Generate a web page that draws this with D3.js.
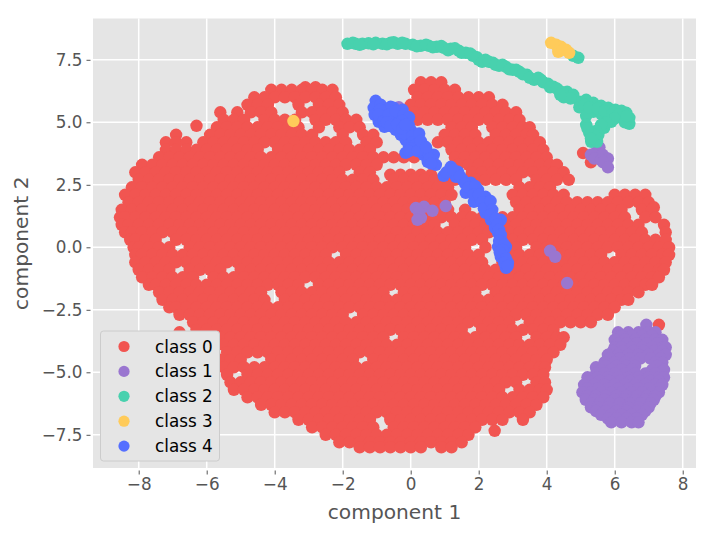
<!DOCTYPE html>
<html>

<head>
    <meta charset="utf-8" />
    <title>Clusters</title>
    <style>
        body { margin: 0; background: #fff; }
        text { font-family: "DejaVu Sans", sans-serif; }
    </style>
</head>

<body>
    <svg width="714" height="538"></svg>
</body>

<script src="https://d3js.org/d3.v7.min.js"></script>
<script>

    var classNames = ['class 0', 'class 1', 'class 2', 'class 3', 'class 4'];
    var classColors = ['#f15551', '#9a76d0', '#48d1ae', '#ffcb5a', '#556fff'];
    var xTicks = [-8, -6, -4, -2, 0, 2, 4, 6, 8];
    var yTicks = [-7.5, -5, -2.5, 0, 2.5, 5, 7.5];
    var xDomain = [-9.344, 8.391];
    var yDomain = [-8.828, 9.152];

    var class0Rows = [
        [6.6, [0.3,0.6,0.9]],
        [6.4, [-3.1,-2.8]],
        [6.3, [-4.1,-3.8,-3.5,-3.2,-2.9,-2.6,-2.3,0.1,0.4,0.7,1.0,1.3]],
        [6.0, [-4.6,-4.3,-4.0,-3.7,-3.4,-3.1,-2.8,-2.5,-2.2,0.2,0.5,0.8,1.1,1.4,1.7,2.0,2.3]],
        [5.7, [-4.8,-4.5,-4.2,-3.3,-2.7,-2.4,-2.1,0,0.3,0.6,0.9,1.2,1.5,1.8,2.1,2.4,2.7]],
        [5.4, [-5.6,-5.1,-4.7,-4.4,-4.1,-3.2,-2.9,-2.6,-2.3,-2.0,0.1,0.4,0.7,1.0,1.3,1.6,1.9,2.2,2.5,2.8,3.1]],
        [5.1, [-5.5,-5.2,-4.9,-4.3,-4.0,-3.7,-3.4,-2.8,-2.5,-2.2,-1.9,-1.6,0.2,0.5,0.8,1.1,1.4,1.7,2.0,2.3,2.6,2.9,3.2]],
        [4.86, [-6.3]],
        [4.8, [-5.7,-5.4,-5.1,-4.8,-4.5,-4.2,-3.9,-3.6,-3.3,-2.7,-2.1,-1.8,-1.5,1.2,1.5,1.8,2.4,2.7,3.0,3.3,3.5]],
        [4.5, [-6.9,-5.9,-5.6,-5.3,-5.0,-4.7,-4.4,-4.1,-3.8,-3.5,-3.2,-2.9,-2.0,-1.4,-1.1,1.0,1.3,1.6,1.9,2.5,2.8,3.1,3.4,3.6]],
        [4.2, [-7.2,-6.9,-6.6,-6.1,-5.8,-5.5,-5.2,-4.9,-4.6,-4.3,-4.0,-3.7,-3.4,-3.1,-2.8,-2.5,-2.2,-1.9,-1.3,-1.0,0.8,1.1,1.4,1.7,2.0,2.3,2.6,2.9,3.2,3.5,3.8]],
        [3.9, [-7.2,-6.9,-6.6,-6.3,-6.0,-5.7,-5.4,-5.1,-4.8,-4.5,-3.9,-3.6,-3.3,-3.0,-2.7,-2.4,-2.1,-1.8,-1.5,-1.2,1.2,1.5,1.8,2.1,2.4,2.7,3.0,3.3,3.6,3.9]],
        [3.6, [-7.4,-7.1,-6.8,-6.5,-6.2,-5.9,-5.6,-5.3,-5.0,-4.7,-4.4,-4.1,-3.8,-3.5,-3.2,-2.9,-2.6,-2.3,-2.0,-1.7,-1.4,-1.1,-0.8,-0.5,-0.2,0.1,1.3,1.6,1.9,2.2,2.5,2.8,3.1,3.4,3.7,4.0]],
        [3.3, [-7.9,-7.6,-7.3,-7.0,-6.7,-6.4,-6.1,-5.8,-5.5,-5.2,-4.9,-4.6,-4.3,-4.0,-3.7,-3.4,-3.1,-2.8,-2.5,-2.2,-1.9,-1.6,-1.3,-1.0,1.4,1.7,2.0,2.3,2.6,2.9,3.2,3.5,3.8,4.1,4.3]],
        [3.0, [-8.1,-7.8,-7.5,-7.2,-6.9,-6.6,-6.3,-6.0,-5.7,-5.4,-5.1,-4.8,-4.5,-4.2,-3.9,-3.6,-3.3,-3.0,-2.7,-2.4,-2.1,-1.5,-1.2,1.8,2.1,2.4,2.7,3.0,3.3,3.6,3.9,4.2,4.5]],
        [2.9, [-0.6,-0.3,0,0.3,0.6]],
        [2.7, [-8.0,-7.7,-7.4,-7.1,-6.8,-6.5,-6.2,-5.9,-5.6,-5.3,-5.0,-4.7,-4.4,-4.1,-3.8,-3.5,-3.2,-2.9,-2.6,-2.3,-2.0,-1.7,-1.4,-1.1,-0.5,-0.2,0.1,0.4,0.7,1.0,1.3,1.6,1.9,2.2,2.5,2.8,3.1,3.7,4.0,4.3,4.65]],
        [2.4, [-8.2,-7.9,-7.6,-7.3,-7.0,-6.7,-6.4,-6.1,-5.8,-5.5,-5.2,-4.9,-4.6,-4.3,-4.0,-3.7,-3.4,-3.1,-2.8,-2.5,-2.2,-1.9,-1.6,-1.3,-1.0,-0.7,-0.4,-0.1,0.2,0.5,0.8,1.1,3.2,3.5,3.8,4.1]],
        [2.1, [-8.4,-8.1,-7.8,-7.5,-7.2,-6.9,-6.6,-6.3,-6.0,-5.7,-5.4,-5.1,-4.8,-4.5,-4.2,-3.9,-3.6,-3.3,-3.0,-2.7,-2.4,-2.1,-1.8,-1.5,-1.2,-0.9,-0.6,-0.3,0,0.3,0.6,0.9,1.2,3.0,3.3,3.6,3.9,4.2,4.5,6.0,6.3,6.6,6.9]],
        [1.8, [-8.3,-8.0,-7.7,-7.4,-7.1,-6.8,-6.5,-6.2,-5.9,-5.6,-5.3,-5.0,-4.7,-4.4,-4.1,-3.8,-3.5,-3.2,-2.9,-2.6,-2.3,-2.0,-1.7,-1.4,-1.1,-0.8,-0.5,-0.2,0.1,0.4,0.7,1.0,3.1,3.4,3.7,4.0,4.3,4.6,4.9,5.2,5.5,5.8,6.1,6.4,6.7,7.0]],
        [1.6, [7.15]],
        [1.5, [-8.5,-8.2,-7.9,-7.6,-7.3,-7.0,-6.7,-6.4,-6.1,-5.8,-5.5,-5.2,-4.9,-4.6,-4.3,-4.0,-3.7,-3.4,-3.1,-2.8,-2.5,-2.2,-1.9,-1.6,-1.3,-1.0,-0.7,-0.4,-0.1,0.2,0.5,0.8,1.1,1.6,3.2,3.5,3.8,4.1,4.4,4.7,5.0,5.3,5.6,5.9,6.2,6.8,7.1]],
        [1.2, [-8.55,-8.4,-8.1,-7.8,-7.5,-7.2,-6.9,-6.6,-6.3,-6.0,-5.7,-5.4,-5.1,-4.8,-4.5,-4.2,-3.9,-3.6,-3.3,-3.0,-2.7,-2.4,-2.1,-1.8,-1.5,-1.2,-0.9,-0.6,-0.3,0,0.3,0.6,0.9,1.2,1.5,1.8,2.1,2.7,3.0,3.3,3.6,3.9,4.2,4.5,4.8,5.1,5.4,5.7,6.0,6.3,6.9,7.2]],
        [0.9, [-8.5,-8.3,-8.0,-7.7,-7.4,-7.1,-6.8,-6.5,-6.2,-5.9,-5.6,-5.3,-5.0,-4.7,-4.4,-4.1,-3.8,-3.5,-3.2,-2.9,-2.6,-2.3,-2.0,-1.7,-1.4,-1.1,-0.8,-0.5,-0.2,0.1,0.4,0.7,1.3,1.6,1.9,2.2,2.8,3.1,3.4,3.7,4.0,4.3,4.6,4.9,5.2,5.5,5.8,6.1,6.4,6.7,7.45]],
        [0.6, [-8.4,-8.2,-7.9,-7.6,-7.3,-7.0,-6.7,-6.4,-6.1,-5.8,-5.5,-5.2,-4.9,-4.6,-4.3,-4.0,-3.7,-3.4,-3.1,-2.8,-2.5,-2.2,-1.9,-1.6,-1.3,-1.0,-0.7,-0.4,-0.1,0.2,0.5,0.8,1.1,1.4,1.7,2.0,2.3,2.9,3.2,3.5,3.8,4.1,4.4,4.7,5.0,5.3,5.6,5.9,6.2,6.5,6.8,7.5]],
        [0.3, [-8.25,-8.1,-7.8,-7.5,-6.9,-6.6,-6.3,-6.0,-5.7,-5.4,-5.1,-4.8,-4.5,-4.2,-3.9,-3.6,-3.3,-3.0,-2.7,-2.4,-2.1,-1.8,-1.5,-1.2,-0.9,-0.6,-0.3,0,0.3,0.6,0.9,1.2,1.5,1.8,2.1,2.7,3.0,3.3,3.6,3.9,4.2,4.5,4.8,5.1,5.4,5.7,6.0,6.3,6.6,6.9,7.2,7.5]],
        [0, [-8.15,-8.0,-7.7,-7.4,-7.1,-6.5,-6.2,-5.9,-5.6,-5.3,-5.0,-4.7,-4.4,-4.1,-3.8,-3.5,-3.2,-2.9,-2.6,-2.3,-2.0,-1.7,-1.4,-1.1,-0.8,-0.5,-0.2,0.1,0.4,0.7,1.0,1.3,1.6,2.2,2.8,3.1,3.7,4.0,4.3,4.6,4.9,5.2,5.5,5.8,6.1,6.4,6.7,7.0,7.3,7.6]],
        [-0.3, [-8.1,-7.9,-7.6,-7.3,-7.0,-6.7,-6.4,-6.1,-5.8,-5.5,-5.2,-4.9,-4.6,-4.3,-4.0,-3.7,-3.4,-3.1,-2.8,-2.5,-1.9,-1.6,-1.3,-1.0,-0.7,-0.4,-0.1,0.2,0.5,0.8,1.1,1.4,1.7,2.0,2.9,3.2,3.5,3.8,4.1,4.4,4.7,5.0,5.3,5.6,6.2,6.5,6.8,7.1,7.4,7.6]],
        [-0.6, [-8.1,-7.8,-7.5,-7.2,-6.9,-6.6,-6.3,-6.0,-5.7,-5.4,-5.1,-4.8,-4.5,-4.2,-3.9,-3.6,-3.3,-3.0,-2.7,-2.4,-2.1,-1.8,-1.5,-1.2,-0.9,-0.6,-0.3,0,0.3,0.6,0.9,1.2,1.5,1.8,2.1,2.7,3.0,3.3,3.6,3.9,4.2,4.5,4.8,5.1,5.4,5.7,6.0,6.3,6.6,6.9,7.2,7.5]],
        [-0.9, [-8.0,-7.7,-7.4,-7.1,-6.5,-6.2,-5.9,-5.6,-5.0,-4.7,-4.4,-4.1,-3.8,-3.5,-3.2,-2.9,-2.6,-2.3,-2.0,-1.7,-1.4,-1.1,-0.8,-0.5,-0.2,0.1,0.4,0.7,1.0,1.3,1.6,1.9,2.2,2.5,2.8,3.1,3.4,3.7,4.0,4.3,4.6,4.9,5.2,5.5,5.8,6.1,6.4,6.7,7.0,7.3,7.45]],
        [-1.2, [-7.9,-7.6,-7.3,-7.0,-6.7,-6.4,-5.8,-5.5,-5.2,-4.9,-4.6,-4.3,-4.0,-3.7,-3.4,-3.1,-2.8,-2.5,-2.2,-1.9,-1.6,-1.3,-1.0,-0.7,-0.4,-0.1,0.2,0.5,0.8,1.1,1.4,1.7,2.0,2.3,2.6,2.9,3.2,3.5,3.8,4.1,4.4,4.7,5.0,5.3,5.6,5.9,6.2,6.5,6.8,7.1,7.3]],
        [-1.5, [-7.7,-7.5,-7.2,-6.9,-6.6,-6.3,-6.0,-5.7,-5.4,-5.1,-4.8,-4.5,-4.2,-3.9,-3.6,-3.3,-2.7,-2.4,-2.1,-1.8,-1.5,-1.2,-0.9,-0.6,-0.3,0,0.3,0.6,0.9,1.2,1.5,1.8,2.1,2.4,2.7,3.0,3.3,3.6,3.9,4.2,4.5,4.8,5.1,5.4,5.7,6.0,6.3,6.6,6.9,7.1]],
        [-1.8, [-7.4,-7.1,-6.8,-6.5,-6.2,-5.9,-5.6,-5.3,-5.0,-4.7,-4.4,-3.8,-3.5,-3.2,-2.9,-2.6,-2.3,-2.0,-1.7,-1.4,-1.1,-0.8,-0.2,0.1,0.4,0.7,1.0,1.3,1.6,1.9,2.5,2.8,3.1,3.4,3.7,4.0,4.3,4.6,4.9,5.2,5.5,5.8,6.1,6.4,6.7]],
        [-2.1, [-7.3,-7.0,-6.7,-6.4,-6.1,-5.8,-5.5,-5.2,-4.9,-4.6,-4.3,-3.7,-3.4,-3.1,-2.8,-2.5,-2.2,-1.9,-1.6,-1.3,-1.0,-0.7,-0.4,-0.1,0.2,0.5,0.8,1.1,1.4,1.7,2.0,2.3,2.6,2.9,3.2,3.5,3.8,4.1,4.4,4.7,5.0,5.3,5.6,5.9,6.2,6.4]],
        [-2.4, [-7.1,-6.9,-6.6,-6.3,-6.0,-5.7,-5.4,-5.1,-4.8,-4.5,-4.2,-3.9,-3.6,-3.3,-3.0,-2.7,-2.4,-2.1,-1.8,-1.5,-1.2,-0.9,-0.6,-0.3,0,0.3,0.6,0.9,1.2,1.5,1.8,2.1,2.4,2.7,3.0,3.3,3.6,3.9,4.2,4.5,4.8,5.1,5.4,5.7,6.0]],
        [-2.7, [-6.8,-6.5,-6.2,-5.9,-5.6,-5.3,-5.0,-4.7,-4.4,-4.1,-3.8,-3.5,-3.2,-2.9,-2.6,-2.3,-2.0,-1.4,-1.1,-0.8,-0.5,-0.2,0.1,0.4,0.7,1.0,1.3,1.6,1.9,2.2,2.5,2.8,3.1,3.4,3.7,4.0,4.3,4.6,4.9,5.2,5.5,5.8]],
        [-3.0, [-6.4,-6.1,-5.8,-5.5,-5.2,-4.9,-4.6,-4.3,-4.0,-3.7,-3.4,-3.1,-2.8,-2.5,-2.2,-1.9,-1.6,-1.3,-1.0,-0.7,-0.4,-0.1,0.2,0.5,0.8,1.1,1.4,1.7,2.0,2.3,2.6,2.9,3.5,3.8,4.1,4.4,4.7,5.0,5.3]],
        [-3.3, [-6.3,-6.0,-5.7,-5.4,-5.1,-4.8,-4.5,-4.2,-3.9,-3.6,-3.3,-3.0,-2.7,-2.4,-2.1,-1.8,-1.5,-1.2,-0.9,-0.6,-0.3,0,0.3,0.6,0.9,1.2,1.5,2.1,2.4,2.7,3.0,3.3,3.6,3.9,4.2]],
        [-3.6, [-5.6,-5.3,-5.0,-4.7,-4.4,-4.1,-3.8,-3.5,-3.2,-2.9,-2.6,-2.3,-2.0,-1.7,-1.4,-1.1,-0.8,-0.2,0.1,0.4,0.7,1.0,1.3,1.6,1.9,2.2,2.5,2.8,3.1,3.7,4.0,4.3,4.5]],
        [-3.9, [-5.5,-5.2,-4.9,-4.6,-4.3,-4.0,-3.7,-3.4,-3.1,-2.8,-2.5,-2.2,-1.9,-1.6,-1.3,-1.0,-0.7,-0.4,-0.1,0.2,0.5,0.8,1.1,1.4,1.7,2.0,2.3,2.6,2.9,3.2,3.5,3.8,4.1,4.4]],
        [-4.2, [-5.4,-5.1,-4.8,-4.5,-4.2,-3.9,-3.6,-3.3,-3.0,-2.7,-2.4,-2.1,-1.8,-1.5,-1.2,-0.9,-0.6,-0.3,0,0.3,0.6,0.9,1.2,1.5,1.8,2.1,2.4,2.7,3.0,3.3,3.6,3.9,4.2]],
        [-4.5, [-5.6,-5.3,-5.0,-4.1,-3.8,-3.5,-3.2,-2.9,-2.6,-2.3,-2.0,-1.7,-1.1,-0.8,-0.5,-0.2,0.1,0.4,0.7,1.0,1.3,1.6,1.9,2.2,2.5,2.8,3.1,3.4,3.7,4.0]],
        [-4.8, [-5.5,-5.2,-4.9,-4.6,-4.3,-4.0,-3.7,-3.4,-3.1,-2.8,-2.5,-2.2,-1.9,-1.6,-1.3,-1.0,-0.7,-0.4,-0.1,0.2,0.5,0.8,1.1,1.4,1.7,2.0,2.3,2.6,2.9,3.2,3.5,3.8,3.95]],
        [-5.1, [-5.4,-4.8,-4.5,-4.2,-3.9,-3.6,-3.3,-3.0,-2.7,-2.4,-2.1,-1.8,-1.5,-1.2,-0.9,-0.6,-0.3,0,0.3,0.6,0.9,1.2,1.5,1.8,2.1,2.4,2.7,3.0,3.3,3.6,3.9]],
        [-5.4, [-5.3,-5.0,-4.7,-4.4,-4.1,-3.8,-3.5,-3.2,-2.9,-2.6,-2.3,-2.0,-1.7,-1.4,-1.1,-0.8,-0.5,-0.2,0.1,0.4,0.7,1.0,1.3,1.6,1.9,2.2,2.5,2.8,3.1,3.7,3.95]],
        [-5.7, [-5.2,-4.9,-4.6,-4.3,-4.0,-3.7,-3.4,-3.1,-2.8,-2.5,-2.2,-1.9,-1.6,-1.3,-1.0,-0.7,-0.4,-0.1,0.2,0.5,0.8,1.1,1.4,1.7,2.0,2.3,2.6,3.2,3.5,3.8,4.0]],
        [-6.0, [-4.8,-4.5,-4.2,-3.9,-3.6,-3.3,-3.0,-2.7,-2.4,-2.1,-1.8,-1.5,-1.2,-0.9,-0.6,-0.3,0,0.3,0.6,0.9,1.2,1.5,1.8,2.1,2.4,2.7,3.0,3.3,3.6,3.9]],
        [-6.3, [-4.4,-4.1,-3.8,-3.5,-3.2,-2.9,-2.6,-2.3,-2.0,-1.7,-1.4,-1.1,-0.8,-0.5,-0.2,0.1,0.4,0.7,1.0,1.3,1.6,1.9,2.2,2.5,2.8,3.1,3.4,3.7]],
        [-6.6, [-4.0,-3.7,-3.4,-3.1,-2.8,-2.5,-2.2,-1.9,-1.6,-1.3,-1.0,-0.7,-0.4,-0.1,0.2,0.5,0.8,1.1,1.4,1.7,2.0,2.3,2.6,2.9,3.2,3.5]],
        [-6.9, [-3.3,-3.0,-2.7,-2.4,-2.1,-1.8,-1.5,-1.2,-0.6,-0.3,0,0.3,0.6,0.9,1.2,1.5,1.8,2.1,2.4,2.7,3.3]],
        [-7.2, [-2.9,-2.6,-2.3,-2.0,-1.7,-1.4,-1.1,-0.5,-0.2,0.1,0.4,0.7,1.0,1.3,1.6,1.9]],
        [-7.34, [2.47]],
        [-7.5, [-2.5,-2.2,-1.9,-1.6,-1.3,-1.0,-0.7,-0.4,-0.1,0.2,0.5,0.8,1.1,1.4,1.7]],
        [-7.8, [-2.1,-1.8,-1.5,-1.2,-0.9,-0.6,-0.3,0,0.3,0.6,0.9,1.2,1.5]],
        [-8.0, [-1.5,-1.2,-0.9,-0.6,-0.3,0,0.3,0.9,1.2]],
        // little clump next to the purple one, stray points above it
        [3.77, [5.07]],
        [3.4, [5.3]],
        [-3.1, [7.3]],
        [-3.4, [-6.8]]
    ];

    var class1Rows = [
        [5.6, [-0.35]],
        [4.0, [5.55]],
        [3.8, [5.45,5.5]],
        [3.7, [5.3,5.65]],
        [3.55, [5.4,5.8]],
        [3.5, [5.6]],
        [3.4, [5.66]],
        [3.2, [5.8]],
        [1.65, [1.03]],
        [1.62, [0.39]],
        [1.57, [0.15]],
        [1.46, [0.64]],
        [1.42, [0.24]],
        [1.18, [0.3]],
        [1.1, [0.2]],
        [-0.14, [4.1]],
        [-0.38, [4.25]],
        [-1.43, [4.6]],
        [-3.1, [6.93]],
        [-3.4, [6.1,6.4,6.7,7.0,7.2]],
        [-3.55, [6.2,6.5,6.8,7.1]],
        [-3.7, [6.0,6.3,6.6,6.9,7.2,7.4]],
        [-3.85, [6.1,6.35,6.65,6.95,7.25]],
        [-4.0, [6.0,6.2,6.5,6.8,7.1,7.4,7.5]],
        [-4.15, [5.95,6.25,6.55,6.85,7.15,7.4]],
        [-4.3, [5.8,6.1,6.4,6.7,7.0,7.3,7.5]],
        [-4.45, [5.85,6.15,6.45,6.75,7.05,7.35]],
        [-4.6, [5.7,6.0,6.3,6.6,7.2,7.4]],
        [-4.75, [5.75,6.05,6.35,6.6,7.25]],
        [-4.8, [5.45]],
        [-4.9, [5.6,5.9,6.2,6.5,7.1,7.45]],
        [-5.05, [5.45,5.7,6.0,6.3,6.6,6.9,7.2]],
        [-5.2, [5.2,5.5,5.8,6.1,6.4,6.7,7.0,7.3,7.45]],
        [-5.35, [5.25,5.55,5.85,6.15,6.45,6.75,7.05,7.3]],
        [-5.5, [5.1,5.4,5.7,6.0,6.3,6.6,6.9,7.2,7.4]],
        [-5.65, [5.2,5.5,5.8,6.1,6.4,6.7,7.0,7.3]],
        [-5.8, [5.05,5.3,5.6,5.9,6.2,6.5,6.8,7.1,7.3]],
        [-5.95, [5.2,5.45,5.75,6.05,6.35,6.65,6.95,7.2]],
        [-6.1, [5.15,5.4,5.7,6.0,6.3,6.6,6.9,7.15]],
        [-6.25, [5.3,5.55,5.85,6.15,6.45,6.75,7.05]],
        [-6.4, [5.3,5.5,5.8,6.1,6.4,6.7,7.0]],
        [-6.55, [5.45,5.75,6.05,6.35,6.65,6.9]],
        [-6.7, [5.6,5.9,6.2,6.5,6.8]],
        [-6.85, [5.8,6.05,6.35,6.65]],
        [-7.0, [5.9,6.2,6.5,6.7]]
    ];

    var class2X = [-1.86,-1.62,-1.42,-1.24,-1.03,-0.83,-0.59,-0.38,-0.15,0.06,0.3,0.53,0.77,0.97,1.18,1.42,1.62,1.83,2.0,2.2,2.42,2.6,2.8,3.0,3.2,3.42,3.63,3.83,4.04,4.2,4.37,4.5,4.6,4.78,4.96,5.16,5.37,5.6,5.81,6.02,6.2,6.34,6.43,6.43,6.25,5.16,5.37,5.6,5.84,5.16,5.9,5.69,5.52,5.31,5.48,5.16,5.25,5.37,4.93,4.78,
        -1.7,-1.5,-1.1,-0.7,-0.5,-0.25,0.18,0.45,0.65,0.9,1.1,1.3,1.5,1.75,1.95,2.1,2.3,2.5,2.7,2.9,3.1,3.3,3.5,3.75,3.9,4.1,4.3,4.45,
        4.96,5.1,5.25,5.5,5.7,5.95,6.1,6.0,5.75,5.6,5.45,5.4,5.2,5.3,6.3,6.35,4.7,4.4];
    var class2Y = [8.14,8.14,8.14,8.16,8.18,8.14,8.18,8.14,8.14,8.1,8.06,8.06,8.02,7.98,7.94,7.86,7.78,7.66,7.5,7.5,7.38,7.26,7.22,7.1,7.02,6.9,6.7,6.7,6.54,6.42,6.26,6.0,6.22,6.1,5.82,5.9,5.78,5.66,5.58,5.5,5.46,5.38,5.18,4.94,5.18,5.5,5.42,5.34,5.26,5.26,5.02,4.78,4.5,4.22,4.22,4.9,4.58,4.38,7.58,7.66,
        8.18,8.1,8.12,8.12,8.2,8.18,8.04,8.1,8.0,8.05,7.88,7.96,7.78,7.75,7.6,7.42,7.42,7.3,7.3,7.12,7.1,6.92,6.78,6.78,6.6,6.4,6.35,6.2,
        5.6,5.7,5.6,5.55,5.45,5.38,5.3,5.15,5.0,4.9,4.65,4.5,4.75,4.35,5.0,5.25,5.95,6.1];

    var class3X = [4.13,4.28,4.42,4.57,4.66,4.34,4.48,-3.45];
    var class3Y = [8.18,8.1,8.02,7.9,7.78,7.82,7.9,5.05];

    var class4X = [-1.03,-1.09,-1.06,-0.94,-0.77,-0.88,-0.68,-0.5,-0.5,-0.74,-0.53,-0.35,-0.35,-0.24,-0.15,-0.06,-0.44,-0.29,-0.15,0,0.15,-0.06,0.09,0.29,0.24,0.38,-0.15,0.68,0.74,0.5,0.29,-0.59,0.97,1.18,1.39,1.53,1.77,1.62,1.86,1.98,2.2,2.3,2.2,2.36,2.65,2.57,2.57,2.8,2.65,2.86,2.8,2.48,2.65,2.74,1.33,1.77,2.06,
        -0.9,-0.95,-0.8,-0.65,-0.7,-0.6,-0.45,-0.2,-0.05,-0.25,-0.1,-0.2,0.05,0.05,0.15,0.4,0.5,0.55,0.6,0,-0.05,0.2,-0.4,-0.25,-0.15,0.25,0.3,0.45,
        1.05,1.25,1.45,1.6,1.7,1.9,1.85,2.0,2.1,2.15,2.35,2.4,2.35,2.5,2.55,2.6,2.65,2.7,2.6,2.75,2.7,2.62,2.8,2.75,2.85];
    var class4Y = [5.86,5.58,5.3,5.02,4.82,5.7,5.5,5.58,5.3,5.22,5.02,5.3,4.9,5.5,5.18,4.9,4.7,4.5,4.3,4.7,4.5,4.1,3.98,3.98,4.3,3.7,3.78,3.7,3.3,3.42,3.82,5.62,2.86,3.22,3.02,2.7,2.58,2.18,1.82,2.3,2.02,1.62,1.38,1.1,1.1,0.58,0.02,0.02,-0.38,-0.62,-0.82,0.78,0.3,-0.3,2.82,2.3,1.9,
        5.5,5.3,5.05,5.3,5.0,4.85,5.45,5.3,5.2,5.05,4.7,4.55,4.45,4.2,4.1,4.05,3.8,3.55,3.35,3.95,3.85,3.85,4.9,4.75,4.9,4.55,4.25,4.0,
        3.0,3.1,2.85,2.55,2.4,2.45,2.1,2.1,1.8,1.55,1.85,1.5,1.3,1.15,0.9,0.7,0.5,0.2,0.25,0.1,-0.1,-0.2,-0.45,-0.6,-0.75];

    function fromRows(rows) {
        return d3.merge(rows.map(function (r) {
            return r[1].map(function (x) { return [x, r[0]]; });
        }));
    }

    function fromLists(xs, ys) {
        return xs.map(function (x, i) { return [x, ys[i]]; });
    }

    var series = [
        fromRows(class0Rows),
        fromRows(class1Rows),
        fromLists(class2X, class2Y),
        fromLists(class3X, class3Y),
        fromLists(class4X, class4Y)
    ];

    var left = 93, right = 696, top_ = 18.5, bottom = 468;
    var svg = d3.select('svg');

    var x = d3.scaleLinear().domain(xDomain).range([left, right]);
    var y = d3.scaleLinear().domain(yDomain).range([bottom, top_]);

    svg.append('rect')
        .attr('x', left)
        .attr('y', top_)
        .attr('width', right - left)
        .attr('height', bottom - top_)
        .attr('fill', '#e5e5e5');

    // white grid
    svg.selectAll('.gx').data(xTicks).enter().append('line')
        .attr('x1', function (d) { return x(d); })
        .attr('x2', function (d) { return x(d); })
        .attr('y1', top_).attr('y2', bottom)
        .attr('stroke', '#fff').attr('stroke-width', 1.5);
    svg.selectAll('.gy').data(yTicks).enter().append('line')
        .attr('y1', function (d) { return y(d); })
        .attr('y2', function (d) { return y(d); })
        .attr('x1', left).attr('x2', right)
        .attr('stroke', '#fff').attr('stroke-width', 1.5);

    series.forEach(function (points, i) {
        svg.append('g').selectAll('circle')
            .data(points)
            .enter()
            .append('circle')
            .attr('cx', function (d) { return x(d[0]); })
            .attr('cy', function (d) { return y(d[1]); })
            .attr('r', 6.2)
            .attr('fill', classColors[i]);
    });

    var minus = function (s) { return s.replace('-', '\u2212'); };

    var xAxis = d3.axisBottom(x).tickValues(xTicks).tickSize(4).tickPadding(4)
        .tickSizeOuter(0)
        .tickFormat(function (d) { return minus(String(d)); });
    var yAxis = d3.axisLeft(y).tickValues(yTicks).tickSize(4).tickPadding(4)
        .tickSizeOuter(0)
        .tickFormat(function (d) { return minus(d.toFixed(1)); });

    var gx = svg.append('g').attr('transform', 'translate(0,' + (bottom + 2.5) + ')').call(xAxis);
    var gy = svg.append('g').attr('transform', 'translate(' + (left - 2.5) + ',0)').call(yAxis);
    [gx, gy].forEach(function (g) {
        g.select('.domain').remove();
        g.selectAll('line').attr('stroke', '#555').attr('stroke-width', 1);
        g.selectAll('text')
            .attr('fill', '#555')
            .style('font-family', '"DejaVu Sans", sans-serif')
            .style('font-size', '16.8px');
    });

    svg.append('text')
        .attr('x', (left + right) / 2).attr('y', 519)
        .attr('text-anchor', 'middle')
        .attr('fill', '#555')
        .style('font-size', '20.2px')
        .text('component 1');
    svg.append('text')
        .attr('transform', 'translate(28,' + (top_ + bottom) / 2 + ') rotate(-90)')
        .attr('text-anchor', 'middle')
        .attr('fill', '#555')
        .style('font-size', '20.2px')
        .text('component 2');

    // legend
    svg.append('rect')
        .attr('x', 100.5).attr('y', 331)
        .attr('width', 119).attr('height', 130)
        .attr('rx', 3)
        .attr('fill', '#e5e5e5')
        .attr('stroke', '#ccc');

    var legend = svg.selectAll('.entry')
        .data(classNames)
        .enter()
        .append('g')
        .attr('transform', function (d, i) { return 'translate(124,' + (346.5 + i * 24.9) + ')'; });
    legend.append('circle')
        .attr('r', 5.6)
        .attr('fill', function (d, i) { return classColors[i]; });
    legend.append('text')
        .attr('x', 31)
        .attr('y', 6)
        .style('font-size', '16.8px')
        .attr('fill', '#000')
        .text(function (d) { return d; });

</script>

</html>
